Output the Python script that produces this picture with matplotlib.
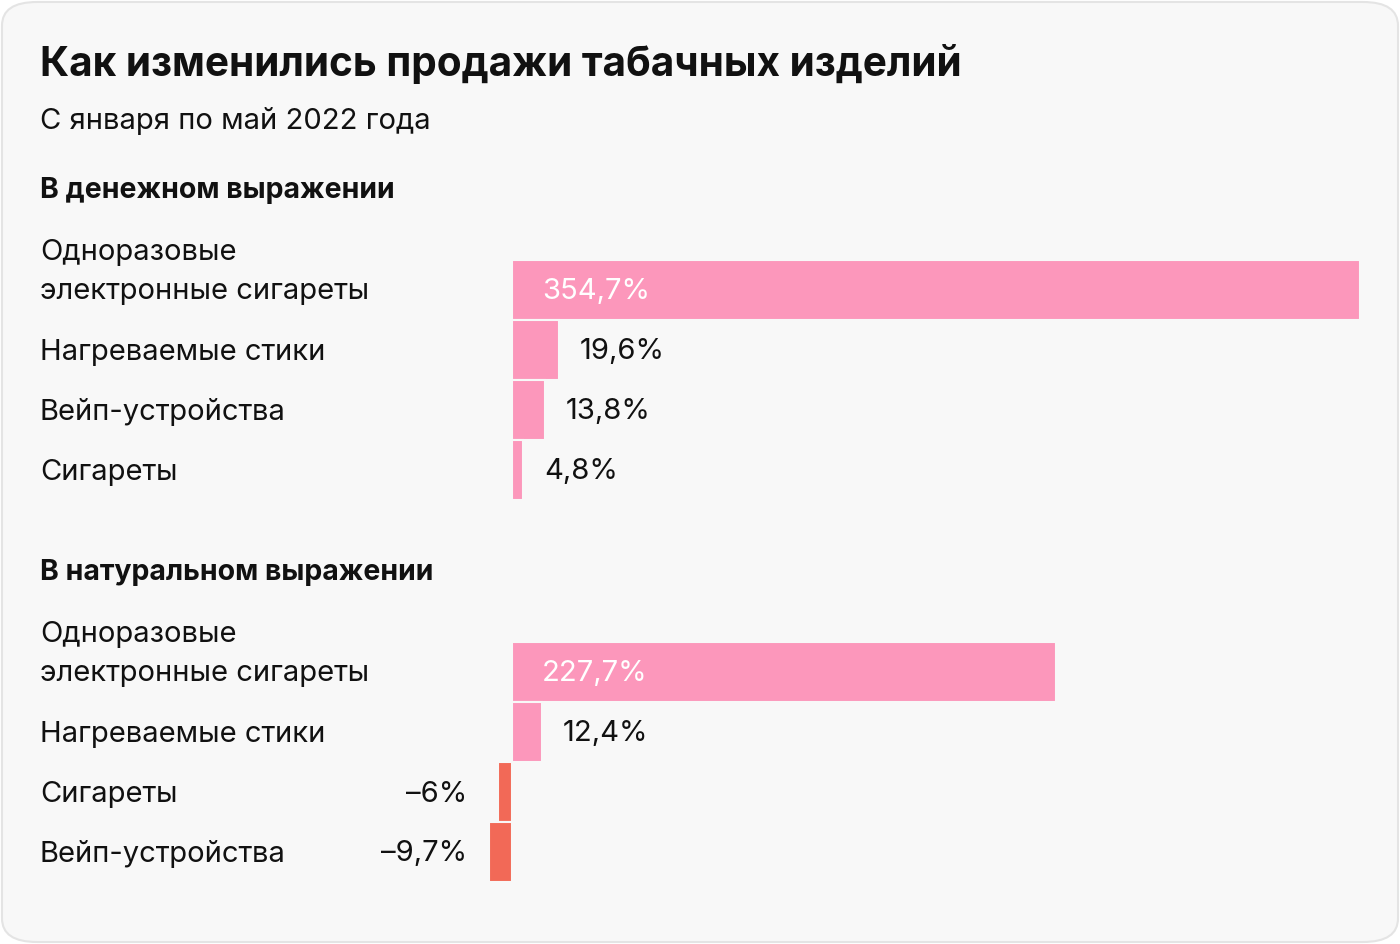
import numpy as np
import matplotlib.pyplot as plt
from matplotlib.patches import FancyBboxPatch

plt.rcParams['font.family'] = ['Inter', 'DejaVu Sans']

title = 'Как изменились продажи табачных изделий'
subtitle = 'С января по май 2022 года'

money_header = 'В денежном выражении'
money_labels = ['Одноразовые\nэлектронные сигареты', 'Нагреваемые стики', 'Вейп-устройства', 'Сигареты']
money_values = [354.7, 19.6, 13.8, 4.8]

units_header = 'В натуральном выражении'
units_labels = ['Одноразовые\nэлектронные сигареты', 'Нагреваемые стики', 'Сигареты', 'Вейп-устройства']
units_values = [227.7, 12.4, -6.0, -9.7]

W, H = 1400, 944
pink = '#fc97bb'
red = '#f26957'
fs = 21

fig = plt.figure(figsize=(W / 100, H / 100), dpi=100)
fig.patch.set_facecolor('white')
bg = FancyBboxPatch((2 / W, 2 / H), 1 - 4 / W, 1 - 4 / H,
                    boxstyle='round,pad=0,rounding_size=0.025',
                    transform=fig.transFigure, facecolor='#f8f8f8',
                    edgecolor='#e4e4e4', linewidth=1.5, zorder=-1)
fig.patches.append(bg)

ax = fig.add_axes([0, 0, 1, 1])
ax.set_facecolor('none')
px = 2.39  # pixels per percent point
zero = 512
ax.set_xlim(-zero / px, (W - zero) / px)
ax.set_ylim(H, 0)
ax.axis('off')


def fmt(v):
    s = ('%.1f' % abs(v)).rstrip('0').rstrip('.').replace('.', ',')
    return ('–' if v < 0 else '') + s + '%'


def to_x(p):
    return (p - zero) / px


def section(header, header_y, labels, values, first_y):
    ax.text(to_x(40), header_y, header, fontsize=20.5, fontweight='bold',
            va='center', ha='left', color='#111111')
    ys = first_y + 60 * np.arange(len(values))
    colors = [pink if v >= 0 else red for v in values]
    ax.barh(ys, values, height=60, color=colors, edgecolor='#f8f8f8', linewidth=1.5)
    for y, lab, v in zip(ys, labels, values):
        ty = y + 2
        if '\n' in lab:
            ax.text(to_x(40), ty - 20, lab, fontsize=fs, va='center', ha='left',
                    linespacing=1.53, color='#111111')
        else:
            ax.text(to_x(40), ty, lab, fontsize=fs, va='center', ha='left', color='#111111')
        if v > 100:
            ax.text(30 / px, ty, fmt(v), fontsize=fs, va='center', ha='left', color='white')
        elif v >= 0:
            ax.text(v + 21 / px, ty, fmt(v), fontsize=fs, va='center', ha='left', color='#111111')
        else:
            ax.text(to_x(467), ty, fmt(v), fontsize=fs, va='center', ha='right', color='#111111')


fig.text(40 / W, 1 - 64 / H, title, fontsize=29.2, fontweight='bold', va='center', ha='left', color='#111111')
fig.text(40 / W, 1 - 121 / H, subtitle, fontsize=fs, va='center', ha='left', color='#111111')

section(money_header, 191, money_labels, money_values, 290)
section(units_header, 573, units_labels, units_values, 672)

fig.savefig('out.png', dpi=100, facecolor=fig.get_facecolor())
